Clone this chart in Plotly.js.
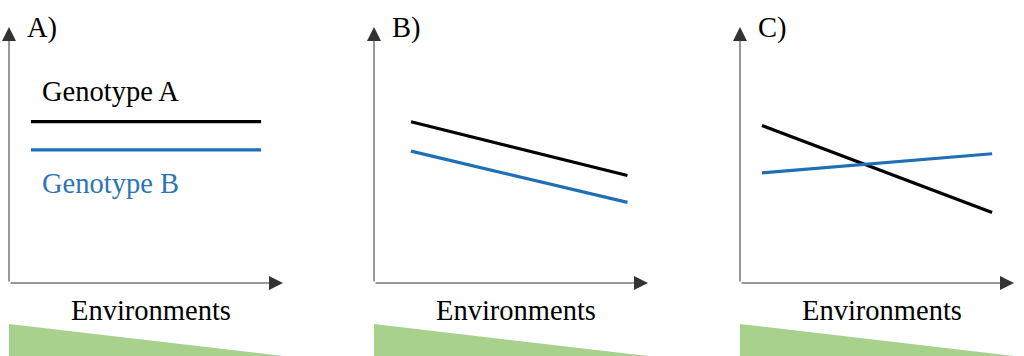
<!DOCTYPE html>
<html>
<head>
<meta charset="utf-8">
<script src="https://cdn.plot.ly/plotly-3.0.1.min.js"></script>
<style>html,body{margin:0;padding:0;background:#fff;}#chart{width:1024px;height:356px;}</style>
</head>
<body>
<div id="chart"></div>
<script>
// Panel labels and texts
const panelLabels = ["A)", "B)", "C)"];
const xAxisLabel = "Environments";
const seriesNames = ["Genotype A", "Genotype B"];

// Series values per panel (x = environment position, y = performance)
const xA = [0.8, 9.2];
const genoA_A = [6.3, 6.3];
const genoB_A = [5.2, 5.2];

const xB = [1.35, 9.25];
const genoA_B = [6.3, 4.2];
const genoB_B = [5.15, 3.15];

const xC = [0.8, 9.2];
const genoA_C = [6.15, 2.75];
const genoB_C = [4.3, 5.05];

const black = "#000000";
const blue = "#1f6fb5";
const blueText = "#2e75b6";
const green = "#a9d18e";
const axisCol = "#333333";
const serif = "Liberation Serif";
const fs = 28.5;

const W = 1024, H = 356;
const panelsPx = [[9, 283], [374, 648], [740, 1014]];
const yBottomPx = 283, yTopPx = 27;

const sets = [[xA, genoA_A, genoB_A], [xB, genoA_B, genoB_B], [xC, genoA_C, genoB_C]];
const traces = [];
sets.forEach((s, i) => {
  const xa = i === 0 ? "x" : "x" + (i + 1);
  const ya = i === 0 ? "y" : "y" + (i + 1);
  traces.push({x: s[0], y: s[1], xaxis: xa, yaxis: ya, mode: "lines", name: seriesNames[0],
    line: {color: black, width: 3.2}, hoverinfo: "skip", showlegend: false});
  traces.push({x: s[0], y: s[2], xaxis: xa, yaxis: ya, mode: "lines", name: seriesNames[1],
    line: {color: blue, width: 3.2}, hoverinfo: "skip", showlegend: false});
});

const layout = {
  width: W, height: H,
  margin: {l: 0, r: 0, t: 0, b: 0},
  paper_bgcolor: "#fff", plot_bgcolor: "rgba(0,0,0,0)",
  showlegend: false,
  font: {family: serif},
  annotations: [], shapes: []
};
const yDom = [(H - yBottomPx) / H, (H - yTopPx) / H];
panelsPx.forEach((p, i) => {
  const n = i === 0 ? "" : String(i + 1);
  const axCommon = {range: [0, 10], showgrid: false, zeroline: false, showticklabels: false,
    ticks: "", showline: false, fixedrange: true};
  layout["xaxis" + n] = Object.assign({}, axCommon, {domain: [p[0] / W, p[1] / W], anchor: "y" + n});
  layout["yaxis" + n] = Object.assign({}, axCommon, {domain: yDom, anchor: "x" + n});
  const xr = "x" + n, yr = "y" + n;
  // axes with arrowheads
  layout.annotations.push({x: 10, y: 0, ax: 0, ay: 0, xref: xr, yref: yr, axref: xr, ayref: yr,
    showarrow: true, arrowhead: 2, arrowsize: 2.8, arrowwidth: 1, arrowcolor: axisCol, standoff: 0, text: ""});
  layout.annotations.push({x: 0, y: 10, ax: 0, ay: 0, xref: xr, yref: yr, axref: xr, ayref: yr,
    showarrow: true, arrowhead: 2, arrowsize: 2.8, arrowwidth: 1, arrowcolor: axisCol, standoff: 0, text: ""});
  // panel label
  layout.annotations.push({x: (p[0] + 16) / W, y: (H - 28) / H, xref: "paper", yref: "paper",
    xanchor: "left", yanchor: "middle", showarrow: false, text: panelLabels[i],
    font: {family: serif, size: fs, color: "#000"}});
  // x label
  layout.annotations.push({x: (p[0] + 142) / W, y: (H - 310) / H, xref: "paper", yref: "paper",
    xanchor: "center", yanchor: "middle", showarrow: false, text: xAxisLabel,
    font: {family: serif, size: fs, color: "#000"}});
  // green gradient wedge
  layout.shapes.push({type: "path", xref: xr + " domain", yref: "paper",
    path: "M 0," + ((H - 324) / H) + " L 0,0 L 1,0 Z", fillcolor: green, line: {width: 0}, layer: "below"});
});
// in-panel legend text for panel A
layout.annotations.push({x: 40 / W, y: (H - 91) / H, xref: "paper", yref: "paper",
  xanchor: "left", yanchor: "middle", showarrow: false, text: seriesNames[0],
  font: {family: serif, size: fs, color: "#000"}});
layout.annotations.push({x: 40 / W, y: (H - 184) / H, xref: "paper", yref: "paper",
  xanchor: "left", yanchor: "middle", showarrow: false, text: seriesNames[1],
  font: {family: serif, size: fs, color: blueText}});

Plotly.newPlot("chart", traces, layout, {staticPlot: true, displayModeBar: false});
</script>
</body>
</html>
